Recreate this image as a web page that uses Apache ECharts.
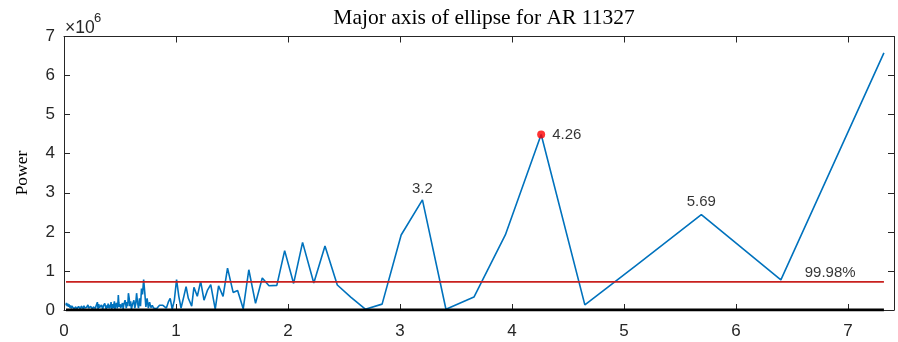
<!DOCTYPE html>
<html>
<head>
<meta charset="utf-8">
<title>Major axis of ellipse for AR 11327</title>
<script src="https://cdn.jsdelivr.net/npm/echarts@6/dist/echarts.min.js"></script>
<style>
  html, body { margin: 0; padding: 0; background: #ffffff; }
  #chart { width: 898px; height: 342px; }
</style>
</head>
<body>
<div id="chart"></div>
<script>
// Periodogram of the ellipse major axis (power in units of 10^6)
const periods = [
  0.018, 0.022, 0.028, 0.034, 0.040, 0.046, 0.052, 0.058, 0.064, 0.070,
  0.076, 0.082, 0.088, 0.094, 0.100, 0.106, 0.112, 0.118, 0.124, 0.130,
  0.136, 0.142, 0.148, 0.154, 0.160, 0.166, 0.172, 0.178, 0.184, 0.190,
  0.196, 0.202, 0.208, 0.214, 0.220, 0.226, 0.232, 0.238, 0.244, 0.250,
  0.256, 0.262, 0.268, 0.274, 0.280, 0.286, 0.292, 0.298, 0.304, 0.310,
  0.316, 0.322, 0.328, 0.334, 0.340, 0.346, 0.352, 0.358, 0.364, 0.370,
  0.376, 0.382, 0.388, 0.394, 0.400, 0.405, 0.410, 0.415, 0.420, 0.425,
  0.430, 0.435, 0.440, 0.445, 0.450, 0.455, 0.460, 0.465, 0.470, 0.475,
  0.480, 0.485, 0.489, 0.494, 0.500, 0.506, 0.512, 0.517, 0.522, 0.528,
  0.533, 0.539, 0.545, 0.551, 0.556, 0.563, 0.569, 0.575, 0.582, 0.588,
  0.595, 0.602, 0.609, 0.617, 0.624, 0.632, 0.640, 0.648, 0.656, 0.665,
  0.674, 0.683, 0.692, 0.701, 0.711, 0.721, 0.731, 0.742, 0.753, 0.764,
  0.776, 0.788, 0.800, 0.813, 0.826, 0.839, 0.853, 0.868, 0.883, 0.898,
  0.914, 0.931, 0.948, 0.966, 0.985, 1.005, 1.025, 1.045, 1.07, 1.09,
  1.11, 1.14, 1.16, 1.19, 1.22, 1.25, 1.28, 1.31, 1.35, 1.38,
  1.42, 1.46, 1.51, 1.55, 1.60, 1.65, 1.71, 1.77, 1.83, 1.90,
  1.97, 2.05, 2.13, 2.23, 2.33, 2.44, 2.56, 2.69, 2.84, 3.01,
  3.20, 3.41, 3.66, 3.94, 4.26, 4.65, 5.12, 5.69, 6.40, 7.32
];
const powers = [
  0.12, 0.18, 0.10, 0.16, 0.08, 0.14, 0.06, 0.12, 0.04, 0.10,
  0.05, 0.09, 0.03, 0.07, 0.04, 0.08, 0.02, 0.06, 0.03, 0.09,
  0.04, 0.07, 0.02, 0.10, 0.05, 0.08, 0.03, 0.11, 0.05, 0.09,
  0.02, 0.07, 0.04, 0.13, 0.05, 0.10, 0.03, 0.09, 0.06, 0.11,
  0.02, 0.08, 0.05, 0.12, 0.04, 0.10, 0.07, 0.20, 0.03, 0.15,
  0.06, 0.10, 0.04, 0.13, 0.08, 0.02, 0.11, 0.06, 0.17, 0.09,
  0.03, 0.12, 0.05, 0.16, 0.10, 0.04, 0.13, 0.06, 0.20, 0.02,
  0.08, 0.15, 0.05, 0.10, 0.22, 0.03, 0.12, 0.07, 0.18, 0.04,
  0.10, 0.38, 0.20, 0.08, 0.15, 0.05, 0.10, 0.06, 0.18, 0.03,
  0.12, 0.08, 0.25, 0.15, 0.05, 0.20, 0.10, 0.43, 0.30, 0.10,
  0.22, 0.02, 0.12, 0.08, 0.25, 0.05, 0.15, 0.43, 0.20, 0.05,
  0.30, 0.10, 0.55, 0.40, 0.78, 0.45, 0.08, 0.30, 0.05, 0.20,
  0.06, 0.12, 0.05, 0.08, 0.03, 0.06, 0.12, 0.08, 0.12, 0.10,
  0.05, 0.20, 0.30, 0.02, 0.25, 0.78, 0.35, 0.05, 0.35, 0.60,
  0.30, 0.10, 0.58, 0.35, 0.73, 0.25, 0.50, 0.65, 0.02, 0.62,
  0.35, 1.07, 0.45, 0.50, 0.03, 1.03, 0.17, 0.82, 0.62, 0.63,
  1.52, 0.68, 1.73, 0.69, 1.64, 0.64, 0.33, 0.02, 0.15, 1.92,
  2.82, 0.02, 0.33, 1.92, 4.49, 0.13, 1.17, 2.44, 0.77, 6.58
];

// Annotated peaks (period, power)
const peakPeriods = [3.2, 4.26, 5.69];
const peakPowers = [2.82, 4.49, 2.44];

// Significance level
const threshold = 0.72;
const thresholdLabel = '99.98%';
const thresholdLabelAt = 6.84;

const xTicks = [0, 1, 2, 3, 4, 5, 6, 7];
const yTicks = [0, 1, 2, 3, 4, 5, 6, 7];

const axisColor = '#262626';
const sans = 'Liberation Sans, Arial, sans-serif';
const serif = 'Liberation Serif, Times New Roman, serif';

const lineData = periods.map((p, i) => [p, powers[i]]);
const xFirst = periods[0];
const xLast = periods[periods.length - 1];

const xMin = xTicks[0];
const xMax = 7.41;
const yMin = yTicks[0];
const yMax = yTicks[yTicks.length - 1];

function baseX(pos, showLabels) {
  return {
    type: 'value', position: pos, min: xMin, max: xMax, interval: 1,
    axisLine: { show: true, onZero: false, lineStyle: { color: axisColor, width: 1 } },
    axisTick: { show: true, inside: true, length: 6, lineStyle: { color: axisColor, width: 1 } },
    axisLabel: {
      show: showLabels, color: axisColor, fontFamily: sans, fontSize: 17, margin: 13,
      showMaxLabel: false,
      formatter: v => (xTicks.indexOf(v) >= 0 ? String(v) : '')
    },
    splitLine: { show: false }
  };
}
function baseY(pos, showLabels) {
  return {
    type: 'value', position: pos, min: yMin, max: yMax, interval: 1,
    axisLine: { show: true, onZero: false, lineStyle: { color: axisColor, width: 1 } },
    axisTick: { show: true, inside: true, length: 6, lineStyle: { color: axisColor, width: 1 } },
    axisLabel: { show: showLabels, color: axisColor, fontFamily: sans, fontSize: 17, margin: 9 },
    splitLine: { show: false }
  };
}

const chart = echarts.init(document.getElementById('chart'), null, { renderer: 'canvas' });

chart.setOption({
  animation: false,
  backgroundColor: '#ffffff',
  title: {
    text: 'Major axis of ellipse for AR 11327',
    left: 479, top: 2.5, textAlign: 'center',
    textStyle: { fontFamily: serif, fontSize: 21.5, fontWeight: 'normal', color: '#000000' }
  },
  grid: { left: 64, right: 4, top: 36.5, bottom: 32, containLabel: false },
  xAxis: [baseX('bottom', true), baseX('top', false)],
  yAxis: [baseY('left', true), baseY('right', false)],
  graphic: [
    { type: 'text', left: 65, top: 19, style: { text: '×10', font: '17.5px ' + sans, fill: axisColor } },
    { type: 'text', left: 94, top: 12, style: { text: '6', font: '13px ' + sans, fill: axisColor } },
    {
      type: 'text', x: 22, y: 173, rotation: Math.PI / 2,
      style: { text: 'Power', font: '17.5px ' + serif, fill: '#000000', align: 'center', verticalAlign: 'middle' }
    }
  ],
  series: [
    {
      name: 'Power', type: 'line', data: lineData, showSymbol: false, symbol: 'none',
      lineStyle: { color: '#0072BD', width: 1.6 }, z: 2
    },
    {
      name: 'Significance', type: 'line', data: [[xFirst, threshold], [xLast, threshold]],
      showSymbol: false, symbol: 'none', lineStyle: { color: '#C8201E', width: 1.6 }, z: 3
    },
    {
      name: 'Zero', type: 'line', data: [[xFirst, 0], [xLast, 0]],
      showSymbol: false, symbol: 'none', lineStyle: { color: '#000000', width: 3 }, z: 4
    },
    {
      name: 'Peaks', type: 'scatter', z: 5,
      data: peakPeriods.map((p, i) => {
        const isMax = peakPowers[i] === Math.max(...peakPowers);
        return {
          value: [p, peakPowers[i]],
          symbolSize: isMax ? 8 : 0,
          itemStyle: { color: '#FF0000' },
          label: {
            show: true, formatter: String(p),
            position: isMax ? 'right' : 'top',
            distance: isMax ? 7 : (i === 0 ? 3 : 5),
            color: '#000000', fontFamily: sans, fontSize: 15
          }
        };
      })
    },
    {
      name: 'Level', type: 'scatter', z: 5, symbolSize: 0,
      data: [{
        value: [thresholdLabelAt, threshold],
        label: {
          show: true, formatter: thresholdLabel, position: 'top', distance: 2,
          color: '#000000', fontFamily: sans, fontSize: 15
        }
      }]
    }
  ]
});
</script>
</body>
</html>
